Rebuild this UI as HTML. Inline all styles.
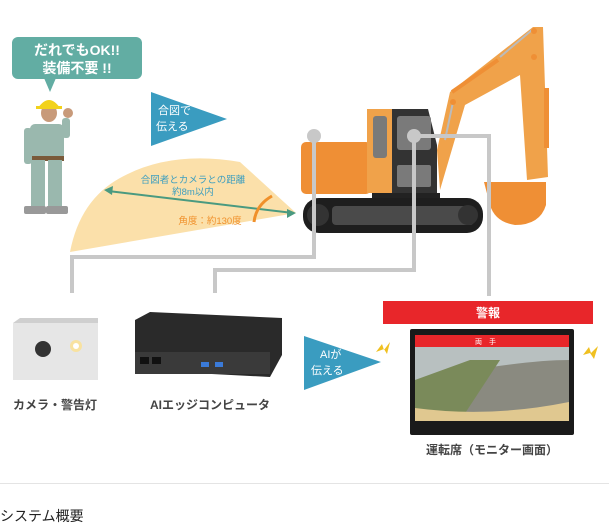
<!DOCTYPE html>
<html><head><meta charset="utf-8"><style>
html,body{margin:0;padding:0;background:#fff;}
svg{display:block;font-family:"Liberation Sans","Noto Sans CJK JP",sans-serif;}
</style></head><body>
<svg width="609" height="528" viewBox="0 0 609 528" xmlns="http://www.w3.org/2000/svg">
<!-- fan -->
<path d="M296 213 L70 252 Q80 200 120 178 Q170 150 240 162 Z" fill="#fbe0aa"/>
<line x1="108" y1="191" x2="293" y2="213" stroke="#4a9a80" stroke-width="2"/>
<polygon points="104,190 113,186 112,195" fill="#4a9a80"/>
<polygon points="296,213 287,209 287,218" fill="#4a9a80"/>
<path d="M254 222 Q256 205 272 196" stroke="#f0902a" stroke-width="3" fill="none"/>
<text x="193" y="183" font-size="9.5" fill="#3d9ebf" text-anchor="middle">合図者とカメラとの距離</text>
<text x="193" y="195" font-size="9.5" fill="#3d9ebf" text-anchor="middle">約8m以内</text>
<text x="210" y="224" font-size="9.5" fill="#f0902a" text-anchor="middle">角度：約130度</text>
<!-- bubble -->
<rect x="12" y="37" width="130" height="42" rx="6" fill="#62ada3"/>
<polygon points="44,78 56,78 50,92" fill="#62ada3"/>
<text x="77" y="55" font-size="14" font-weight="bold" fill="#fff" text-anchor="middle">だれでもOK!!</text>
<text x="77" y="73" font-size="14" font-weight="bold" fill="#fff" text-anchor="middle">装備不要 !!</text>
<!-- worker -->
<ellipse cx="49" cy="113" rx="8" ry="9" fill="#c89a7a"/>
<path d="M38 108 Q49 92 60 108 Z" fill="#f2d21b"/>
<rect x="36" y="106" width="26" height="3" fill="#f2d21b"/>
<rect x="30" y="124" width="34" height="36" rx="5" fill="#9ab8ae"/>
<rect x="30" y="156" width="34" height="5" fill="#7a5a3a"/>
<rect x="31" y="160" width="14" height="48" fill="#9ab8ae"/>
<rect x="48" y="160" width="14" height="48" fill="#9ab8ae"/>
<rect x="24" y="128" width="8" height="36" rx="3" fill="#9ab8ae"/>
<rect x="62" y="118" width="8" height="20" rx="3" fill="#9ab8ae"/>
<circle cx="68" cy="113" r="5" fill="#c89a7a"/>
<rect x="24" y="206" width="22" height="8" rx="2" fill="#999"/>
<rect x="46" y="206" width="22" height="8" rx="2" fill="#999"/>
<!-- triangle 1 -->
<polygon points="151,92 151,146 227,119" fill="#3a9cc0"/>
<text x="158" y="114" font-size="11" fill="#fff">合図で</text>
<text x="156" y="130" font-size="11" fill="#fff">伝える</text>
<!-- excavator arm -->
<polygon points="437,150 450,92 533,27 543,27 548,177 527,180 520,75 465,105 440,190" fill="#f0a24a"/>
<line x1="452" y1="92" x2="498" y2="60" stroke="#ef8f35" stroke-width="4"/>
<line x1="500" y1="57" x2="532" y2="30" stroke="#bbb" stroke-width="2"/>
<line x1="453" y1="102" x2="445" y2="140" stroke="#bbb" stroke-width="2"/>
<rect x="544" y="88" width="5" height="60" fill="#ef8f35"/>
<circle cx="534" cy="31" r="3" fill="#ef8f35"/>
<circle cx="534" cy="57" r="3" fill="#ef8f35"/>
<circle cx="453" cy="102" r="3" fill="#ef8f35"/>
<path d="M484 182 L546 182 L546 205 Q540 225 515 225 Q495 222 490 205 Z" fill="#ef8f35"/>
<!-- excavator body -->
<rect x="301" y="142" width="70" height="52" rx="5" fill="#ef8f35"/>
<rect x="367" y="109" width="26" height="84" fill="#f0a24a"/>
<rect x="373" y="116" width="14" height="42" rx="3" fill="#7a7a7a"/>
<path d="M392 109 L428 109 L437 145 L437 193 L392 193 Z" fill="#333"/>
<rect x="397" y="116" width="34" height="34" rx="3" fill="#7a7a7a"/>
<rect x="397" y="165" width="34" height="22" rx="2" fill="#7a7a7a"/>
<rect x="372" y="193" width="68" height="6" fill="#222"/>
<rect x="303" y="198" width="180" height="35" rx="16" fill="#1e1e1e"/>
<rect x="332" y="206" width="142" height="19" rx="4" fill="#4a4a4a"/>
<circle cx="318" cy="215" r="11" fill="#333"/>
<circle cx="468" cy="215" r="10" fill="#333"/>
<!-- connectors -->
<g stroke="#c8c8c8" stroke-width="4" fill="none">
<polyline points="314,136 314,257 72,257 72,293"/>
<polyline points="414,136 414,270 215,270 215,293"/>
<polyline points="414,136 489,136 489,296"/>
</g>
<circle cx="314" cy="136" r="7" fill="#c8c8c8"/>
<circle cx="414" cy="136" r="7" fill="#c8c8c8"/>
<!-- camera -->
<polygon points="13,323 20,318 98,318 98,375 92,380 13,380" fill="#cfcfcf"/>
<rect x="13" y="323" width="85" height="57" fill="#e6e6e6"/>
<circle cx="43" cy="349" r="8" fill="#333"/>
<circle cx="76" cy="346" r="6" fill="#f8e2a0"/>
<circle cx="76" cy="346" r="3" fill="#fff"/>
<text x="55" y="409" font-size="12" font-weight="bold" fill="#444" text-anchor="middle">カメラ・警告灯</text>
<!-- computer -->
<polygon points="135,320 150,312 282,318 282,355 270,377 135,370" fill="#2a2a2a"/>
<rect x="135" y="352" width="135" height="22" fill="#3a3a3a"/>
<rect x="140" y="357" width="9" height="7" fill="#111"/>
<rect x="152" y="357" width="9" height="7" fill="#111"/>
<rect x="201" y="362" width="8" height="5" fill="#3a7ad8"/>
<rect x="215" y="362" width="8" height="5" fill="#3a7ad8"/>
<text x="210" y="409" font-size="12" font-weight="bold" fill="#444" text-anchor="middle">AIエッジコンピュータ</text>
<!-- triangle 2 -->
<polygon points="304,336 304,390 381,362" fill="#3a9cc0"/>
<text x="320" y="358" font-size="11" fill="#fff">AIが</text>
<text x="311" y="374" font-size="11" fill="#fff">伝える</text>
<!-- bolts -->
<path d="M376 352 L382 344 L384 350 L390 342 L387 354 L384 349 Z" fill="#f0c020"/>
<path d="M583 355 L589 347 L591 353 L598 346 L594 359 L590 353 Z" fill="#f0c020"/>
<!-- alarm -->
<rect x="383" y="301" width="210" height="23" fill="#e8262a"/>
<text x="488" y="317" font-size="12" font-weight="bold" fill="#fff" text-anchor="middle">警報</text>
<!-- monitor -->
<rect x="410" y="329" width="164" height="106" rx="2" fill="#1a1a1a"/>
<rect x="415" y="335" width="154" height="86" fill="#8a8a80"/>
<rect x="415" y="335" width="154" height="12" fill="#e8262a"/>
<text x="475" y="344" font-size="7" fill="#fff">両　手</text>
<path d="M415 347 L569 347 L569 360 Q520 360 415 380 Z" fill="#b8c0c0"/>
<path d="M470 360 L500 360 L460 421 L415 421 L415 380 Z" fill="#7a8a5a"/>
<path d="M415 408 Q490 418 569 402 L569 421 L415 421 Z" fill="#e0c890"/>
<text x="492" y="454" font-size="12" font-weight="bold" fill="#444" text-anchor="middle">運転席（モニター画面）</text>
<!-- footer -->
<line x1="0" y1="483.5" x2="609" y2="483.5" stroke="#e4e4e4" stroke-width="1"/>
<text x="0" y="521" font-size="14" fill="#222">システム概要</text>
</svg>
</body></html>
